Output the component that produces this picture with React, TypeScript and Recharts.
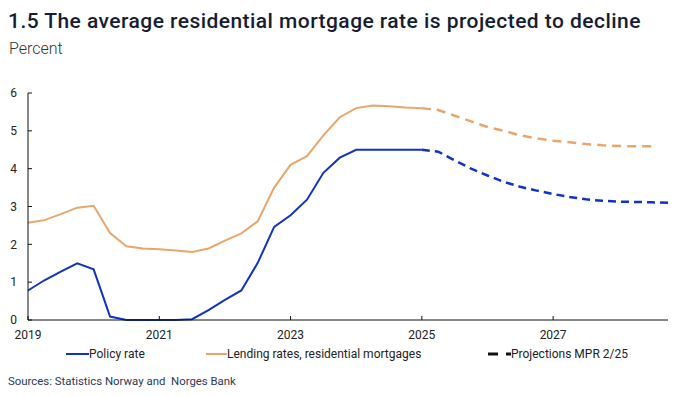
import React from 'react';
import { Line, LineChart, XAxis, YAxis } from 'recharts';

// quarter index: 0 = 2019 Q1
const quarters = Array.from({ length: 40 }, (_, i) => i);
const xTicks = [0, 8, 16, 24, 32];
const yTicks = [0, 1, 2, 3, 4, 5, 6];

const policyRate = [
  0.78, 1.05, 1.28, 1.5, 1.34, 0.09, 0, 0, 0, 0, 0.02, 0.26, 0.53, 0.78, 1.51, 2.46, 2.77, 3.18,
  3.89, 4.29, 4.5, 4.5, 4.5, 4.5, 4.5,
];
const lendingRate = [
  2.57, 2.64, 2.8, 2.97, 3.02, 2.3, 1.95, 1.89, 1.87, 1.84, 1.8, 1.89, 2.1, 2.29, 2.61, 3.5, 4.1,
  4.33, 4.88, 5.36, 5.6, 5.67, 5.65, 5.62, 5.6,
];
// projections start at 2025 Q1 (index 24)
const policyProj = [
  4.5, 4.45, 4.22, 4.0, 3.82, 3.65, 3.52, 3.42, 3.33, 3.25, 3.19, 3.15, 3.13, 3.12, 3.11, 3.1,
];
const lendingProj = [
  5.6, 5.55, 5.4, 5.25, 5.1, 5.0, 4.88, 4.8, 4.74, 4.7, 4.65, 4.62, 4.6, 4.59, 4.59,
];

const data = quarters.map((q) => ({
  q,
  policy: q < policyRate.length ? policyRate[q] : null,
  lending: q < lendingRate.length ? lendingRate[q] : null,
  policyProj: q >= 24 && q - 24 < policyProj.length ? policyProj[q - 24] : null,
  lendingProj: q >= 24 && q - 24 < lendingProj.length ? lendingProj[q - 24] : null,
}));

const BLUE = '#1232c4';
const ORANGE = '#e9a66c';
const FONT = 'Roboto, sans-serif';

const App = () => {
  return (
    <div style={{ position: 'absolute', left: 0, top: 0, width: 684, height: 397, background: '#fff', fontFamily: FONT }}>
      <div style={{ position: 'absolute', left: 8, top: 9, fontSize: 21, fontWeight: 500, color: '#161d33', whiteSpace: 'nowrap', letterSpacing: 0.45 }}>
        1.5 The average residential mortgage rate is projected to decline
      </div>
      <div style={{ position: 'absolute', left: 9, top: 39, fontSize: 16, fontWeight: 300, color: '#333', whiteSpace: 'nowrap' }}>
        Percent
      </div>
      <LineChart width={684} height={397} data={data} margin={{ top: 93, right: 16, left: 0, bottom: 47 }}>
        <XAxis
          dataKey="q"
          type="number"
          domain={[0, 39]}
          ticks={xTicks}
          tickFormatter={(v: number) => String(2019 + v / 4)}
          tick={{ fill: '#222', fontSize: 12, fontFamily: FONT }}
          stroke="#111"
          tickSize={-4}
          tickMargin={14}
          height={30}
        />
        <YAxis
          domain={[0, 6]}
          ticks={yTicks}
          tick={{ fill: '#222', fontSize: 12, fontFamily: FONT }}
          stroke="#111"
          tickSize={-4}
          tickMargin={15}
          width={28}
        />
        <Line dataKey="policy" stroke={BLUE} strokeWidth={2} dot={false} isAnimationActive={false} />
        <Line dataKey="lending" stroke={ORANGE} strokeWidth={2} dot={false} isAnimationActive={false} />
        <Line dataKey="policyProj" stroke={BLUE} strokeWidth={2.5} strokeDasharray="8 5" dot={false} isAnimationActive={false} />
        <Line dataKey="lendingProj" stroke={ORANGE} strokeWidth={2.5} strokeDasharray="9 6" dot={false} isAnimationActive={false} />
      </LineChart>
      <div style={{ position: 'absolute', top: 346, left: 0, width: 684, height: 16, fontSize: 12, color: '#222' }}>
        <svg style={{ position: 'absolute', left: 66, top: 0 }} width={24} height={16}>
          <line x1={0} y1={8} x2={23} y2={8} stroke={BLUE} strokeWidth={2} />
        </svg>
        <span style={{ position: 'absolute', left: 89, top: 0, lineHeight: '16px', whiteSpace: 'nowrap' }}>Policy rate</span>
        <svg style={{ position: 'absolute', left: 206, top: 0 }} width={22} height={16}>
          <line x1={0} y1={8} x2={21} y2={8} stroke={ORANGE} strokeWidth={2} />
        </svg>
        <span style={{ position: 'absolute', left: 227, top: 0, lineHeight: '16px', whiteSpace: 'nowrap' }}>
          Lending rates, residential mortgages
        </span>
        <svg style={{ position: 'absolute', left: 488, top: 0 }} width={24} height={16}>
          <line x1={0} y1={8} x2={23} y2={8} stroke="#111" strokeWidth={3} strokeDasharray="10 8" />
        </svg>
        <span style={{ position: 'absolute', left: 511, top: 0, lineHeight: '16px', whiteSpace: 'nowrap' }}>Projections MPR 2/25</span>
      </div>
      <div style={{ position: 'absolute', left: 8, top: 374, fontSize: 11.4, color: '#2c3a55', whiteSpace: 'nowrap' }}>
        Sources: Statistics Norway and&nbsp; Norges Bank
      </div>
    </div>
  );
};

export default App;
